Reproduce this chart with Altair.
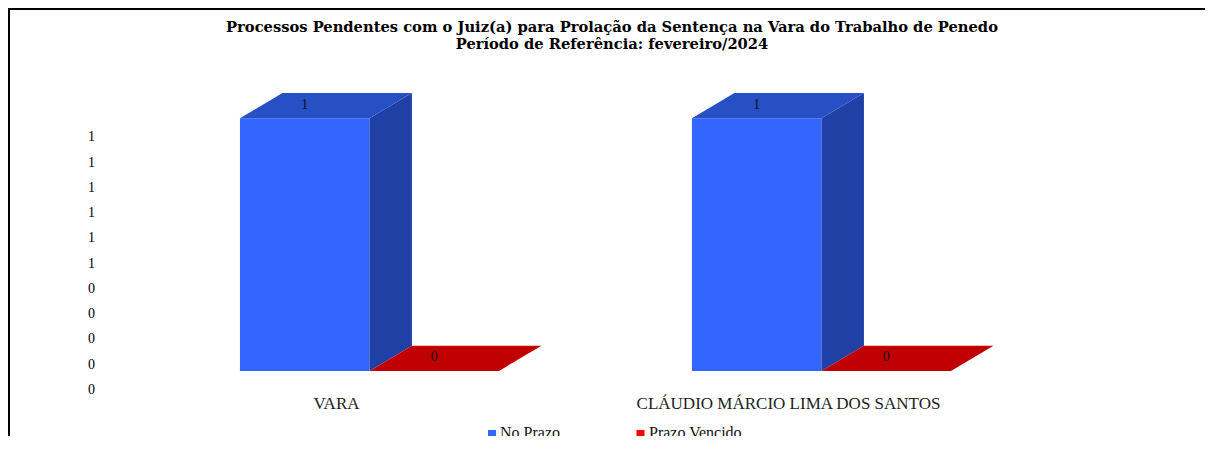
import altair as alt
import pandas as pd

categories = ["VARA", "CLÁUDIO MÁRCIO LIMA DOS SANTOS"]
series = ["No Prazo", "Prazo Vencido"]
no_prazo = [1, 1]
prazo_vencido = [0, 0]
y_ticks = [1.0, 0.9, 0.8, 0.7, 0.6, 0.5, 0.4, 0.3, 0.2, 0.1, 0.0]
title_lines = [
    "Processos Pendentes com o Juiz(a) para Prolação da Sentença na Vara do Trabalho de Penedo",
    "Período de Referência: fevereiro/2024",
]

FONT = "Liberation Serif"
TITLE_FONT = "DejaVu Serif"
FRONT = ["#3366FF", "#FF0000"]
TOP = {"No Prazo": "#2650C4", "Prazo Vencido": "#C00000"}
SIDE = {"No Prazo": "#2040A6", "Prazo Vencido": "#C00000"}

BAR_START = 0.2875   # gap before the first bar, in category units
BAR_W = 0.2865
DX = 0.094           # 3D depth, in category units
DY = 0.1             # 3D depth, in value units

bars, faces, labels = [], [], []
for i, cat in enumerate(categories):
    for j, (name, vals) in enumerate(zip(series, [no_prazo, prazo_vencido])):
        v = vals[i]
        x0 = i + BAR_START + j * BAR_W
        x1 = x0 + BAR_W
        bars.append(dict(series=name, x0=x0, x1=x1, v=v, base=0))
        labels.append(dict(x=(x0 + x1) / 2, y=v + DY / 2, v=v))
        top_id, side_id = f"top{i}{j}", f"side{i}{j}"
        for x, a, b in [(x1, v, 0), (x1 + DX, v + DY, DY)]:
            faces.append(dict(face=side_id, x=x, a=a, b=b, shade=SIDE[name]))
        for x, a, b in [(x0, v, v), (x0 + DX, v + DY, v), (x1, v + DY, v), (x1 + DX, v + DY, v + DY)]:
            faces.append(dict(face=top_id, x=x, a=a, b=b, shade=TOP[name]))

bars = pd.DataFrame(bars)
faces = pd.DataFrame(faces)
labels = pd.DataFrame(labels)

x_scale = alt.Scale(domain=[0, 2], nice=False, zero=False)
y_scale = alt.Scale(domain=[0, 1.1], nice=False)
colors = alt.Scale(domain=series, range=FRONT)

x_axis = alt.Axis(
    values=[0.5, 1.5],
    labelExpr=f"datum.value < 1 ? '{categories[0]}' : '{categories[1]}'",
    title=None, domain=False, ticks=False, grid=False,
    labelFont=FONT, labelFontSize=17, labelColor="#222222", labelPadding=24, labelFlush=False,
    labelOverlap=False, labelLimit=500,
)
y_axis = alt.Axis(
    values=y_ticks, format=".0f", title=None, domain=False, ticks=False, grid=False,
    labelFont=FONT, labelFontSize=14, labelColor="#000000", labelAlign="center",
    labelPadding=19, labelOffset=18.5, labelBound=False, labelFlush=False, labelOverlap=False,
)

front = alt.Chart(bars).mark_bar(clip=False).encode(
    x=alt.X("x0:Q", scale=x_scale, axis=x_axis),
    x2="x1:Q",
    y=alt.Y("v:Q", scale=y_scale, axis=y_axis),
    y2="base:Q",
    color=alt.Color("series:N", scale=colors, legend=None),
)
shaded = [
    alt.Chart(faces[faces.shade == c]).mark_area(fill=c, interpolate="linear").encode(
        x=alt.X("x:Q", scale=x_scale, axis=x_axis),
        y=alt.Y("a:Q", scale=y_scale, axis=y_axis),
        y2="b:Q",
        detail="face:N",
    )
    for c in faces.shade.unique()
]
value_text = alt.Chart(labels).mark_text(font=FONT, fontSize=14, color="#111111", dy=-1).encode(
    x=alt.X("x:Q", scale=x_scale, axis=x_axis),
    y=alt.Y("y:Q", scale=y_scale, axis=y_axis),
    text=alt.Text("v:Q", format="d"),
)

title_rows = pd.DataFrame({"line": title_lines, "ty": [-61, -44]})
title_text = alt.Chart(title_rows).mark_text(
    font=TITLE_FONT, fontSize=14.7, fontWeight="bold", color="black", baseline="alphabetic"
).encode(x=alt.value(502), y=alt.Y("ty:Q", scale=None), text="line:N")

legend_rows = pd.DataFrame({"series": series, "sx": [382, 530.5], "tx": [390, 539]})
swatches = alt.Chart(legend_rows).mark_square(size=64, opacity=1).encode(
    x=alt.X("sx:Q", scale=None),
    y=alt.value(341),
    color=alt.Color("series:N", scale=colors, legend=None),
)
legend_text = alt.Chart(legend_rows).mark_text(
    font=FONT, fontSize=16, align="left", baseline="alphabetic", color="#111111"
).encode(x=alt.X("tx:Q", scale=None), y=alt.value(345), text="series:N")
left_line = alt.Chart(legend_rows.head(1)).mark_rule(color="black", strokeWidth=2).encode(
    x=alt.value(-101), y=alt.value(-85), y2=alt.value(343)
)
top_line = alt.Chart(legend_rows.head(1)).mark_rule(color="black", strokeWidth=2).encode(
    x=alt.value(-102), x2=alt.value(1095), y=alt.value(-84)
)

chart = (
    alt.layer(front, *shaded, value_text, title_text, swatches, legend_text, left_line, top_line)
    .resolve_scale(x="shared", y="shared")
    .properties(
        width=904,
        height=278,
        autosize=alt.AutoSizeParams(type="none"),
        padding={"left": 102, "top": 85, "right": 191, "bottom": 65},
    )
    .configure_view(stroke=None)
)

chart.save("out.html", embed_options={"renderer": "svg", "actions": False})
